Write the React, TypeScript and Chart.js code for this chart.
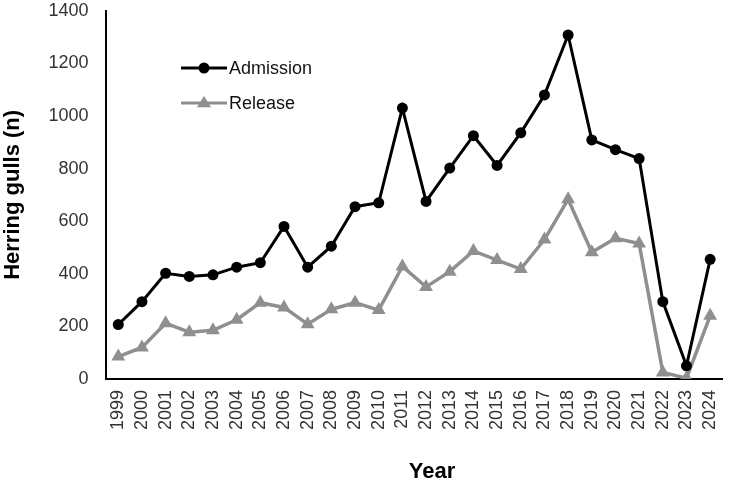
import React, { useEffect, useRef } from "react";
import { Chart, registerables } from "chart.js";

Chart.register(...registerables);

const years = ["1999","2000","2001","2002","2003","2004","2005","2006","2007","2008","2009","2010","2011","2012","2013","2014","2015","2016","2017","2018","2019","2020","2021","2022","2023","2024"];
const admission = [207, 294, 402, 390, 396, 425, 442, 580, 425, 505, 655, 670, 1030, 675, 802, 925, 812, 936, 1080, 1308, 909, 872, 838, 294, 50, 455];
const release = [85, 120, 212, 178, 185, 225, 290, 272, 208, 265, 290, 262, 428, 350, 408, 487, 452, 418, 530, 683, 482, 535, 515, 25, 3, 240];
const yTicks = [0, 200, 400, 600, 800, 1000, 1200, 1400];

const FONT = "'Liberation Sans', Arial, sans-serif";
const BLACK = "#000000";
const GRAY = "#8f8f8f";

const overlay = {
  id: "overlay",
  afterDraw(chart: any) {
    const ctx = chart.ctx;
    ctx.save();
    const items = [
      { label: "Admission", color: BLACK, style: "circle", y: 68, r: 5.5 },
      { label: "Release", color: GRAY, style: "triangle", y: 103, r: 7 },
    ];
    for (const it of items) {
      ctx.strokeStyle = it.color;
      ctx.lineWidth = 3;
      ctx.beginPath();
      ctx.moveTo(181, it.y);
      ctx.lineTo(227, it.y);
      ctx.stroke();
      ctx.fillStyle = it.color;
      ctx.beginPath();
      if (it.style === "circle") {
        ctx.arc(204, it.y, it.r, 0, Math.PI * 2);
      } else {
        ctx.moveTo(204, it.y - it.r);
        ctx.lineTo(204 + it.r, it.y + it.r * 0.6);
        ctx.lineTo(204 - it.r, it.y + it.r * 0.6);
        ctx.closePath();
      }
      ctx.fill();
      ctx.fillStyle = "#111111";
      ctx.font = `18px ${FONT}`;
      ctx.textAlign = "left";
      ctx.textBaseline = "middle";
      ctx.fillText(it.label, 229, it.y + 1);
    }
    ctx.fillStyle = BLACK;
    ctx.font = `bold 22px ${FONT}`;
    ctx.textAlign = "center";
    ctx.textBaseline = "middle";
    ctx.fillText("Year", 432, 472);
    ctx.restore();
  },
};

export default function App() {
  const ref = useRef<HTMLCanvasElement | null>(null);
  useEffect(() => {
    document.body.style.margin = "0";
    const chart = new Chart(ref.current as HTMLCanvasElement, {
      type: "line",
      data: {
        labels: years,
        datasets: [
          {
            label: "Admission",
            data: admission,
            borderColor: BLACK,
            backgroundColor: BLACK,
            borderWidth: 3,
            pointStyle: "circle",
            pointRadius: 5.5,
            pointBorderWidth: 0,
            tension: 0,
          },
          {
            label: "Release",
            data: release,
            borderColor: GRAY,
            backgroundColor: GRAY,
            borderWidth: 3.5,
            pointStyle: "triangle",
            pointRadius: 8,
            pointBorderWidth: 0,
            tension: 0,
          },
        ],
      },
      options: {
        animation: false,
        responsive: false,
        layout: { padding: { top: 0, right: 14, bottom: 52, left: 0 } },
        plugins: { legend: { display: false }, tooltip: { enabled: false } },
        scales: {
          x: {
            offset: true,
            grid: { display: false, drawTicks: true, tickLength: 11 },
            border: { color: BLACK, width: 2 },
            ticks: {
              autoSkip: false,
              minRotation: 90,
              maxRotation: 90,
              padding: 0,
              color: "#333333",
              font: { family: FONT, size: 18 },
            },
          },
          y: {
            min: 0,
            max: 1400,
            afterBuildTicks: (s: any) => {
              s.ticks = yTicks.map((v) => ({ value: v }));
            },
            grid: { display: false, drawTicks: true, tickLength: 18 },
            border: { color: BLACK, width: 2 },
            ticks: {
              padding: 0,
              color: "#333333",
              font: { family: FONT, size: 18 },
              callback: (v: any) => String(v),
            },
            title: {
              display: true,
              text: "Herring gulls (n)",
              color: BLACK,
              font: { family: FONT, size: 22, weight: "bold" },
              padding: { top: 0, bottom: 22 },
            },
          },
        },
      },
      plugins: [overlay],
    });
    return () => chart.destroy();
  }, []);
  return (
    <div style={{ width: 736, height: 482 }}>
      <canvas ref={ref} width={736} height={482} style={{ display: "block" }} />
    </div>
  );
}
